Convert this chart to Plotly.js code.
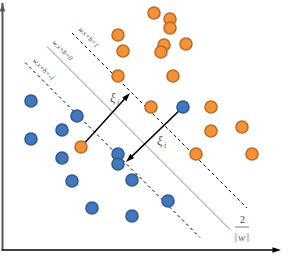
<!DOCTYPE html>
<html><head><meta charset="utf-8">
<script src="https://cdn.plot.ly/plotly-3.0.1.min.js"></script>
<style>html,body{margin:0;padding:0;background:#fff}#c{width:294px;height:257px}</style>
</head><body><div id="c"></div>
<script>
// Class +1 (orange) points
const orangeX = [151,167,167,115,161,183,158,120,170,115,148,208,239,208,193,249,78];
const orangeY = [237,231,222,215,205,206,198,199,174,174,143,143,123,119,96,96,103];
// Class -1 (blue) points
const blueX = [28,74,59,28,180,59,115,115,69,129,89,129,165];
const blueY = [149,134,120,111,143,92,96,86,69,70,42,34,49];
// Hyperplanes: x + y = c ; labels and x extents
const planeLabels = ["w.x+b=1","w.x+b=0","w.x+b=-1"];
const planeC = [286, 247.5, 209.5];
const planeX0 = [69, 44, 22];
const planeX1 = [244, 227, 197];
const planeLabelX = [85, 60, 41];
// Slack arrows: tail (point) -> head (margin)
const slackSymbol = "ξ";
const slackSubs = ["j","i"];
const slackTailX = [78,180], slackTailY = [103,143];
const slackHeadX = [127,123], slackHeadY = [157,88];
const slackLabelX = [110,157], slackLabelY = [153,110];
// Axis arrows
const axisTailX = [-0.5,-1.5], axisTailY = [0,0];
const axisHeadX = [-0.5,278], axisHeadY = [247,0];
const axisColors = ['#555','#000'], axisWidths = [2,1.5];
// Margin width label 2/||w||
const marginNum = "2", marginVar = "w", normBar = "‖";

const traces = [];
function arrow(x0,y0,x1,y1,color,width,size){
  return {x:[x0,x1],y:[y0,y1],mode:'lines+markers',hoverinfo:'skip',
    line:{color:color,width:width},
    marker:{symbol:['circle','arrow'],size:[4,size],opacity:[0,1],color:color,angleref:'previous',line:{width:0}}};
}
planeC.forEach((c,i)=>{
  traces.push({x:[planeX0[i],planeX1[i]], y:[c-planeX0[i], c-planeX1[i]], mode:'lines', hoverinfo:'skip',
    line: i===1 ? {color:'#8a8a8a', width:1} : {color:'#000', width:1, dash:'3px,3px'}});
});
axisTailX.forEach((_,i)=>traces.push(arrow(axisTailX[i],axisTailY[i],axisHeadX[i],axisHeadY[i],axisColors[i],axisWidths[i],9)));
slackTailX.forEach((_,i)=>traces.push(arrow(slackTailX[i],slackTailY[i],slackHeadX[i],slackHeadY[i],'#000',1.5,9)));
traces.push({x:orangeX,y:orangeY,mode:'markers',marker:{size:12,color:'#f39237',line:{color:'#c06a28',width:1.6}}});
traces.push({x:blueX,y:blueY,mode:'markers',marker:{size:12,color:'#4577be',line:{color:'#2e5b92',width:1.6}}});

const serif = 'Liberation Serif';
const ann = [];
planeLabels.forEach((t,i)=>{
  ann.push({x:planeLabelX[i], y:planeC[i]-planeLabelX[i]+12, text:'<i>'+t+'</i>', showarrow:false, textangle:45,
    font:{family:serif,size:7,color:'#444'}});
});
slackSubs.forEach((s,i)=>{
  ann.push({x:slackLabelX[i],y:slackLabelY[i],text:'<i>'+slackSymbol+'</i>',showarrow:false,font:{family:serif,size:13,color:'#555'}});
  ann.push({x:slackLabelX[i],y:slackLabelY[i],xshift:5,yshift:-5,text:'<i>'+s+'</i>',showarrow:false,font:{family:serif,size:8,color:'#555'}});
});
ann.push({x:239,y:31,text:marginNum,showarrow:false,font:{family:serif,size:10,color:'#444'}});
ann.push({x:239,y:13,text:'<i>'+marginVar+'</i>',showarrow:false,font:{family:serif,size:11,color:'#666'}});
[-6,6].forEach(dx=>ann.push({x:239,y:13,xshift:dx,text:normBar,showarrow:false,font:{family:serif,size:13,color:'#aaa'}}));

const layout = {
  width:294,height:257,margin:{l:0,r:0,t:0,b:0},paper_bgcolor:'#fff',plot_bgcolor:'#fff',showlegend:false,
  xaxis:{range:[-3,291],visible:false,fixedrange:true},
  yaxis:{range:[-7,250],visible:false,fixedrange:true},
  annotations:ann,
  shapes:[{type:'line',x0:232,x1:246,y0:23,y1:23,line:{color:'#aaa',width:1.5}}]
};
Plotly.newPlot('c',traces,layout,{staticPlot:true,displayModeBar:false});
</script></body></html>
